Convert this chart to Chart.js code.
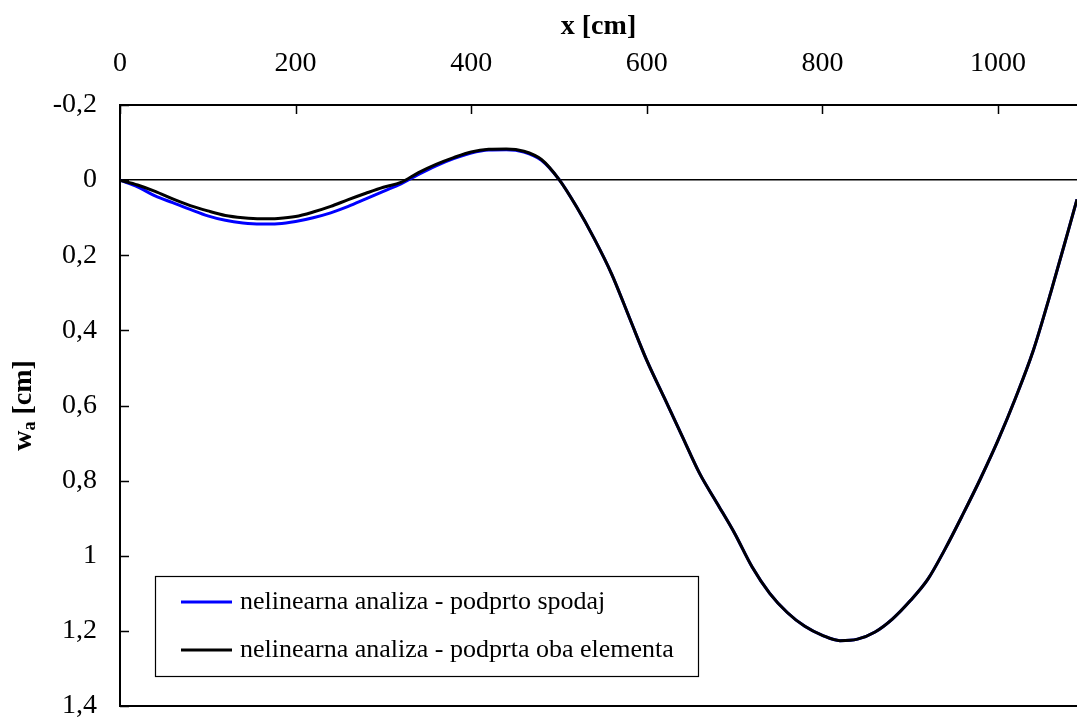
<!DOCTYPE html>
<html>
<head>
<meta charset="utf-8">
<script src="https://cdn.jsdelivr.net/npm/chart.js@4.4.1/dist/chart.umd.min.js"></script>
<style>
  html, body { margin:0; padding:0; background:#fff; }
</style>
</head>
<body>
<canvas id="c" width="1077" height="718"></canvas>
<script>
// x positions along the beam [cm]
const xCm = [0,20,40,60,80,100,120,140,160,180,200,220,240,260,280,300,320,340,360,380,400,420,440,460,480,500,
             520,540,560,580,600,620,640,660,680,700,720,740,760,780,800,820,840,860,880,900,920,940,960,980,
             1000,1020,1040,1060,1080,1090];

// nelinearna analiza - podprto spodaj (blue)
const wSpodaj = [0,0.018,0.042,0.060,0.078,0.095,0.107,0.114,0.117,0.116,0.110,0.100,0.087,0.070,0.050,0.030,0.010,-0.015,-0.038,-0.057,-0.072,-0.080,-0.081,-0.075,-0.053,-0.002,
                 0.071,0.155,0.250,0.365,0.480,0.580,0.680,0.780,0.860,0.940,1.030,1.100,1.151,1.188,1.212,1.226,1.222,1.203,1.168,1.120,1.063,0.981,0.890,0.795,
                 0.693,0.580,0.455,0.300,0.135,0.051];

// nelinearna analiza - podprta oba elementa (black)
const wObaElementa = [0,0.013,0.030,0.050,0.068,0.082,0.094,0.100,0.103,0.102,0.097,0.085,0.070,0.052,0.035,0.019,0.006,-0.020,-0.042,-0.060,-0.075,-0.082,-0.083,-0.077,-0.055,-0.002,
                      0.071,0.155,0.250,0.365,0.480,0.580,0.680,0.780,0.860,0.940,1.030,1.100,1.151,1.188,1.212,1.226,1.222,1.203,1.168,1.120,1.063,0.981,0.890,0.795,
                      0.693,0.580,0.455,0.300,0.135,0.051];

const seriesLabels = ['nelinearna analiza - podprto spodaj', 'nelinearna analiza - podprta oba elementa'];
const xTickValues = [0,200,400,600,800,1000];
const yTickValues = [-0.2,0,0.2,0.4,0.6,0.8,1,1.2,1.4];

const SERIF = '"Liberation Serif", "Times New Roman", serif';

function fmtComma(v){
  return String(Math.round(v*10)/10).replace('.', ',');
}

const framePlugin = {
  id: 'frame',
  afterDraw(chart){
    const { ctx, chartArea: a, scales: { x, y } } = chart;
    ctx.save();
    // bottom frame line
    ctx.strokeStyle = '#000';
    ctx.lineWidth = 2;
    ctx.beginPath();
    ctx.moveTo(a.left - 1, a.bottom);
    ctx.lineTo(a.right, a.bottom);
    ctx.stroke();

    // inside tick marks
    ctx.lineWidth = 1.5;
    ctx.beginPath();
    x.ticks.forEach(t => {
      const px = Math.round(x.getPixelForValue(t.value)) + 0.5;
      ctx.moveTo(px, a.top);
      ctx.lineTo(px, a.top + 9);
    });
    y.ticks.forEach(t => {
      const py = Math.round(y.getPixelForValue(t.value)) + 0.5;
      ctx.moveTo(a.left, py);
      ctx.lineTo(a.left + 9, py);
    });
    ctx.stroke();

    // legend box
    const lx = 155, ly = 576, lw = 543, lh = 100;
    ctx.fillStyle = '#fff';
    ctx.fillRect(lx, ly, lw, lh);
    ctx.lineWidth = 1.2;
    ctx.strokeRect(lx + 0.5, ly + 0.5, lw, lh);
    ctx.font = '26px ' + SERIF;
    ctx.textBaseline = 'middle';
    ctx.textAlign = 'left';
    chart.data.datasets.forEach((ds, i) => {
      const rowY = 602 + i * 48;
      ctx.strokeStyle = ds.borderColor;
      ctx.lineWidth = 3;
      ctx.beginPath();
      ctx.moveTo(181, rowY);
      ctx.lineTo(232, rowY);
      ctx.stroke();
      ctx.fillStyle = '#000';
      ctx.fillText(ds.label, 240, rowY);
    });

    // y axis title: w_a [cm]
    ctx.translate(24, (a.top + a.bottom) / 2);
    ctx.rotate(-Math.PI / 2);
    ctx.fillStyle = '#000';
    ctx.textBaseline = 'middle';
    const bigF = 'bold 28px ' + SERIF, smallF = 'bold 18px ' + SERIF;
    ctx.font = bigF; const wW = ctx.measureText('w').width;
    ctx.font = smallF; const aW = ctx.measureText('a').width;
    ctx.font = bigF; const rW = ctx.measureText(' [cm]').width;
    let sx = -(wW + aW + rW) / 2;
    ctx.font = bigF; ctx.fillText('w', sx, 0); sx += wW;
    ctx.font = smallF; ctx.fillText('a', sx, 6); sx += aW;
    ctx.font = bigF; ctx.fillText(' [cm]', sx, 0);
    ctx.restore();
  }
};

new Chart(document.getElementById('c').getContext('2d'), {
  type: 'line',
  data: {
    datasets: [
      {
        label: seriesLabels[0],
        data: xCm.map((v, i) => ({ x: v, y: wSpodaj[i] })),
        borderColor: '#0000FF',
        borderWidth: 3,
        pointRadius: 0,
        cubicInterpolationMode: 'monotone',
        order: 1
      },
      {
        label: seriesLabels[1],
        data: xCm.map((v, i) => ({ x: v, y: wObaElementa[i] })),
        borderColor: '#000000',
        borderWidth: 3,
        pointRadius: 0,
        cubicInterpolationMode: 'monotone',
        order: 0
      }
    ]
  },
  options: {
    responsive: false,
    animation: false,
    layout: { padding: { top: 0, left: 0, right: 0, bottom: 12 } },
    plugins: { legend: { display: false }, tooltip: { enabled: false } },
    scales: {
      x: {
        type: 'linear',
        position: 'top',
        min: 0,
        max: 1090,
        afterBuildTicks: s => { s.ticks = xTickValues.map(v => ({ value: v })); },
        afterFit: s => { s.height = 105; s.paddingLeft = 0; s.paddingRight = 0; },
        grid: { drawOnChartArea: false, drawTicks: false },
        border: { display: true, color: '#000', width: 2 },
        ticks: { color: '#000', font: { family: SERIF, size: 28 }, padding: 25, maxRotation: 0, callback: v => String(v) },
        title: { display: true, text: 'x [cm]', color: '#000', font: { family: SERIF, size: 28, weight: 'bold' }, padding: { top: 10, bottom: 0 } }
      },
      y: {
        type: 'linear',
        reverse: true,
        min: -0.2,
        max: 1.4,
        afterBuildTicks: s => { s.ticks = yTickValues.map(v => ({ value: v })); },
        afterFit: s => { s.width = 120; s.paddingTop = 0; s.paddingBottom = 0; },
        grid: {
          drawTicks: false,
          color: c => (c.tick && Math.abs(c.tick.value) < 1e-9) ? '#000' : 'rgba(0,0,0,0)',
          lineWidth: 1.5
        },
        border: { display: true, color: '#000', width: 2 },
        ticks: { color: '#000', font: { family: SERIF, size: 28 }, padding: 23, callback: v => fmtComma(v) }
      }
    }
  },
  plugins: [framePlugin]
});
</script>
</body>
</html>
